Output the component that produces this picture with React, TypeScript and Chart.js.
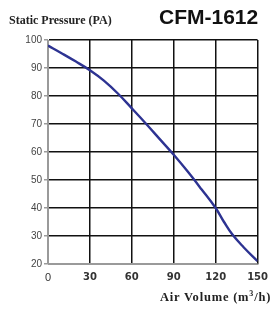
import React, { useEffect, useRef } from "react";
import { Chart, registerables } from "chart.js";

Chart.register(...registerables);

const airVolume = [0, 10, 20, 30, 40, 50, 60, 70, 80, 90, 100, 110, 120, 126, 132, 140, 150];
const staticPressure = [98, 95.2, 92.3, 89.2, 85.5, 80.9, 75.6, 70.2, 64.6, 59, 53, 46.6, 40, 35, 30.5, 26, 21];
const xTicks = [0, 30, 60, 90, 120, 150];
const yTicks = [20, 30, 40, 50, 60, 70, 80, 90, 100];

const titleLeft = "Static Pressure (PA)";
const titleRight = "CFM-1612";

export default function App() {
  const ref = useRef<HTMLCanvasElement | null>(null);

  useEffect(() => {
    if (!ref.current) return;
    const chart = new Chart(ref.current, {
      type: "line",
      data: {
        datasets: [
          {
            data: airVolume.map((x, i) => ({ x, y: staticPressure[i] })),
            borderColor: "#2d3392",
            borderWidth: 2.4,
            pointRadius: 0,
            tension: 0.4,
            fill: false,
          },
        ],
      },
      options: {
        animation: false,
        responsive: false,
        layout: { padding: { top: 40, right: 12, left: 0, bottom: 0 } },
        plugins: { legend: { display: false }, tooltip: { enabled: false } },
        scales: {
          x: {
            type: "linear",
            min: 0,
            max: 150,
            afterBuildTicks: (s: any) => {
              s.ticks = xTicks.map((v) => ({ value: v }));
            },
            afterFit: (s: any) => {
              s.height = 47;
            },
            grid: {
              color: (c: any) => (c.tick && c.tick.value === 0 ? "#9a9a9a" : "#111"),
              lineWidth: 1.5,
              drawTicks: false,
            },
            border: { color: "#9a9a9a", width: 1 },
            ticks: {
              padding: 7,
              color: "#333",
              maxRotation: 0,
              autoSkip: false,
              font: (c: any) =>
                c.tick && c.tick.value === 0
                  ? { family: "'Liberation Sans', Arial", size: 11, weight: "normal" }
                  : { family: "'DejaVu Sans', Verdana", size: 10, weight: "bold" },
            },
          },
          y: {
            type: "linear",
            min: 20,
            max: 100,
            afterBuildTicks: (s: any) => {
              s.ticks = yTicks.map((v) => ({ value: v }));
            },
            afterFit: (s: any) => {
              s.width = 48;
            },
            grid: {
              color: (c: any) => (c.tick && c.tick.value === 20 ? "#9a9a9a" : "#111"),
              tickColor: "#9a9a9a",
              lineWidth: 1.5,
              tickLength: 4,
            },
            border: { color: "#9a9a9a", width: 1 },
            ticks: {
              padding: 2,
              color: "#444",
              autoSkip: false,
              font: { family: "'Liberation Sans', Arial", size: 10 },
            },
          },
        },
      },
    });
    return () => chart.destroy();
  }, []);

  return (
    <div style={{ position: "fixed", left: 0, top: 0, width: 275, height: 311, background: "#fff" }}>
      <canvas ref={ref} width={275} height={311} style={{ position: "absolute", left: 0, top: 0 }} />
      <div
        style={{
          position: "absolute",
          left: 9,
          top: 13,
          fontFamily: "'Liberation Serif', 'Times New Roman', serif",
          fontWeight: "bold",
          fontSize: 12,
          color: "#222",
          whiteSpace: "nowrap",
        }}
      >
        {titleLeft}
      </div>
      <div
        style={{
          position: "absolute",
          left: 159,
          top: 5,
          fontFamily: "'Liberation Sans', Arial, sans-serif",
          fontWeight: "bold",
          fontSize: 21,
          color: "#111",
          whiteSpace: "nowrap",
          lineHeight: "24px",
        }}
      >
        {titleRight}
      </div>
      <div
        style={{
          position: "absolute",
          left: 160,
          top: 289,
          fontFamily: "'Liberation Serif', 'Times New Roman', serif",
          fontWeight: "bold",
          fontSize: 12.5,
          letterSpacing: 0.8,
          color: "#222",
          whiteSpace: "nowrap",
        }}
      >
        Air Volume (m<sup style={{ fontSize: 8 }}>3</sup>/h)
      </div>
    </div>
  );
}
